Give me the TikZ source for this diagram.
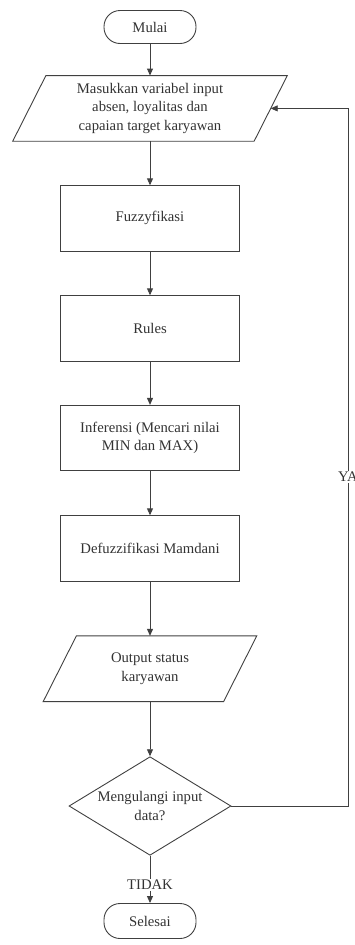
\documentclass[tikz,border=0pt]{standalone}
\usepackage{fontspec}
\setmainfont{Liberation Serif}
\usetikzlibrary{shapes.geometric,arrows.meta}
\begin{document}
\begin{tikzpicture}[x=1pt,y=-1pt,
 every node/.style={font=\fontsize{14.7}{18.3}\selectfont, text=black!80, align=center},
 line/.style={draw=black!75, line width=0.9pt},
 arr/.style={line, -{Triangle[length=7pt,width=6pt]}},
 proc/.style={line, rectangle, minimum width=179pt, minimum height=65.3pt, inner sep=0},
 term/.style={line, rectangle, rounded corners=16pt, minimum width=92pt, minimum height=33pt, inner sep=0},
 io/.style={rectangle, minimum height=65.3pt, inner sep=0},
 lbl/.style={fill=white, inner sep=1pt}
 ]
\useasboundingbox (0,0) rectangle (355,945);
\node[term] (mulai) at (150,27) {Mulai};
\node[io, minimum width=241pt] (inp) at (150,108.4) {Masukkan variabel input\\absen, loyalitas dan\\capaian target karyawan};
\draw[line] ([xshift=16.6pt]inp.north west) -- ([xshift=16.6pt]inp.north east) -- ([xshift=-16.6pt]inp.south east) -- ([xshift=-16.6pt]inp.south west) -- cycle;
\node[proc] (fuzz) at (150,218.4) {Fuzzyfikasi};
\node[proc] (rules) at (150,328.4) {Rules};
\node[proc] (inf) at (150,438) {Inferensi (Mencari nilai\\MIN dan MAX)};
\node[proc] (defz) at (150,548.4) {Defuzzifikasi Mamdani};
\node[io, minimum width=180pt] (out) at (150,668.7) {Output status\\karyawan};
\draw[line] ([xshift=16.6pt]out.north west) -- ([xshift=16.6pt]out.north east) -- ([xshift=-16.6pt]out.south east) -- ([xshift=-16.6pt]out.south west) -- cycle;
\node[line, diamond, minimum width=162pt, minimum height=98.6pt, inner sep=0] (dec) at (150,806) {};
\node (dectext) at (dec) {Mengulangi input\\data?};
\node[term, minimum height=35pt] (selesai) at (150,921) {Selesai};
\coordinate (rx) at (348,0);

\draw[arr] (mulai.south) -- (inp.north);
\draw[arr] (inp.south) -- (fuzz.north);
\draw[arr] (fuzz.south) -- (rules.north);
\draw[arr] (rules.south) -- (inf.north);
\draw[arr] (inf.south) -- (defz.north);
\draw[arr] (defz.south) -- (out.north);
\draw[arr] (out.south) -- (dec.north);
\draw[arr] (dec.south) -- node[lbl, pos=0.62] {TIDAK} (selesai.north);
\draw[arr] (dec.east) -- (dec.east -| rx) -- node[lbl, pos=0.472] {YA} (inp.east -| rx) -- (inp.east);
\end{tikzpicture}
\end{document}
